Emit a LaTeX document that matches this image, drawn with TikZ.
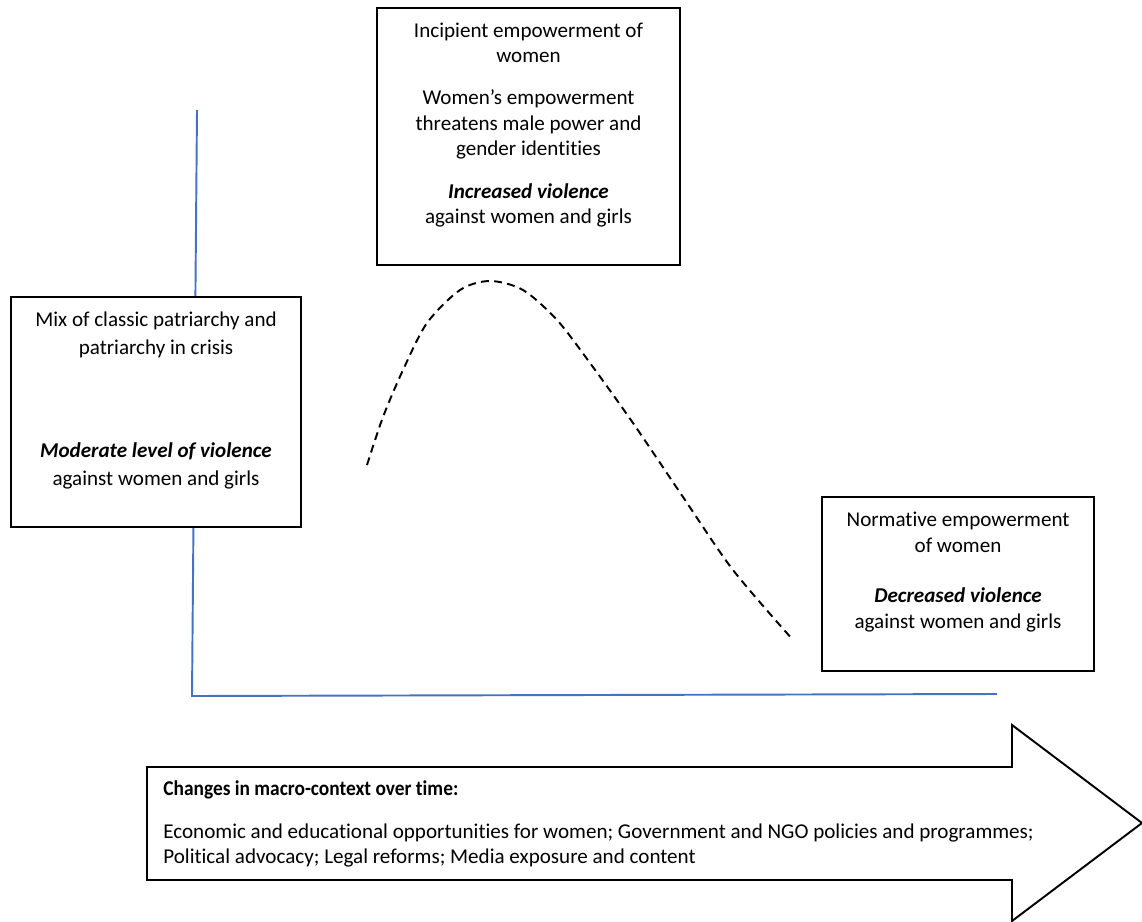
\documentclass[tikz,border=0pt]{standalone}
\usepackage{fontspec}
\setmainfont{Carlito}[Ligatures=NoCommon]
\newfontfamily\titlefont[FakeStretch=0.92,Ligatures=NoCommon]{Carlito}
\usepackage{xcolor}
\definecolor{axisblue}{HTML}{4472C4}
\usepackage{tikz}
\usetikzlibrary{positioning}

\begin{document}
\begin{tikzpicture}[x=0.02cm, y=-0.02cm,
  stagebox/.style={draw=black, line width=1.1pt, fill=white, inner sep=0pt},
  stagetext/.style={font=\fontsize{12}{14.74}\selectfont, align=center, inner sep=0pt, anchor=base},
  contexttext/.style={font=\fontsize{12}{14.2}\selectfont, align=left, inner sep=0pt, anchor=base west}]
  \useasboundingbox (0,0) rectangle (1142,922);

  % Axes
  \draw[axisblue, line width=1.1pt] (197,110) -- (192,696) -- (997,694);

  % Stages (text nodes sit on the baseline of their last line)
  \node[stagebox, minimum width=5.8cm, minimum height=4.6cm] (crisis) at (156,412) {};
  \node[stagebox, minimum width=6.06cm, minimum height=5.14cm] (incipient) at (528.5,136.5) {};
  \node[stagebox, minimum width=5.44cm, minimum height=3.48cm] (normative) at (958,584) {};

  \node[stagetext, font=\fontsize{12}{15.9}\selectfont] (crisis-a) at (156,354) {Mix of classic patriarchy and\\patriarchy in crisis};
  \node[stagetext, font=\fontsize{12}{15.9}\selectfont] (crisis-b) at (156,485) {\textbf{\textit{Moderate level of violence}}\\against women and girls};

  \node[stagetext] (incipient-a) at (528.5,63) {Incipient empowerment of\\women};
  \node[stagetext] (incipient-b) at (528.5,156) {Women’s empowerment\\threatens male power and\\gender identities};
  \node[stagetext] (incipient-c) at (528.5,224) {\textbf{\textit{Increased violence}}\\against women and girls};

  \node[stagetext] (normative-a) at (958,552) {Normative empowerment\\of women};
  \node[stagetext] (normative-b) at (958,628) {\textbf{\textit{Decreased violence}}\\against women and girls};

  % Violence curve
  \draw[line width=1.1pt, dash pattern=on 4.5pt off 3pt]
    plot[smooth] coordinates {(367,465) (383,417) (403,370) (427,323) (460,290) (490,281)
      (523,290) (557,320) (590,363) (633,423) (683,497) (733,570) (793,640)};

  % Macro-context arrow
  \draw[line width=1.1pt, fill=white] (147,767) -- (1012,767) -- (1012,725) -- (1142,823)
    -- (1012,921) -- (1012,880) -- (147,880) -- cycle;
  \node[contexttext, font=\titlefont\fontsize{12}{14.2}\selectfont\bfseries] (context-title) at (163,795) {Changes in macro-context over time:};
  \node[contexttext] (context-body) at (163,863) {Economic and educational opportunities for women; Government and NGO policies and programmes;\\Political advocacy; Legal reforms; Media exposure and content};
\end{tikzpicture}
\end{document}
